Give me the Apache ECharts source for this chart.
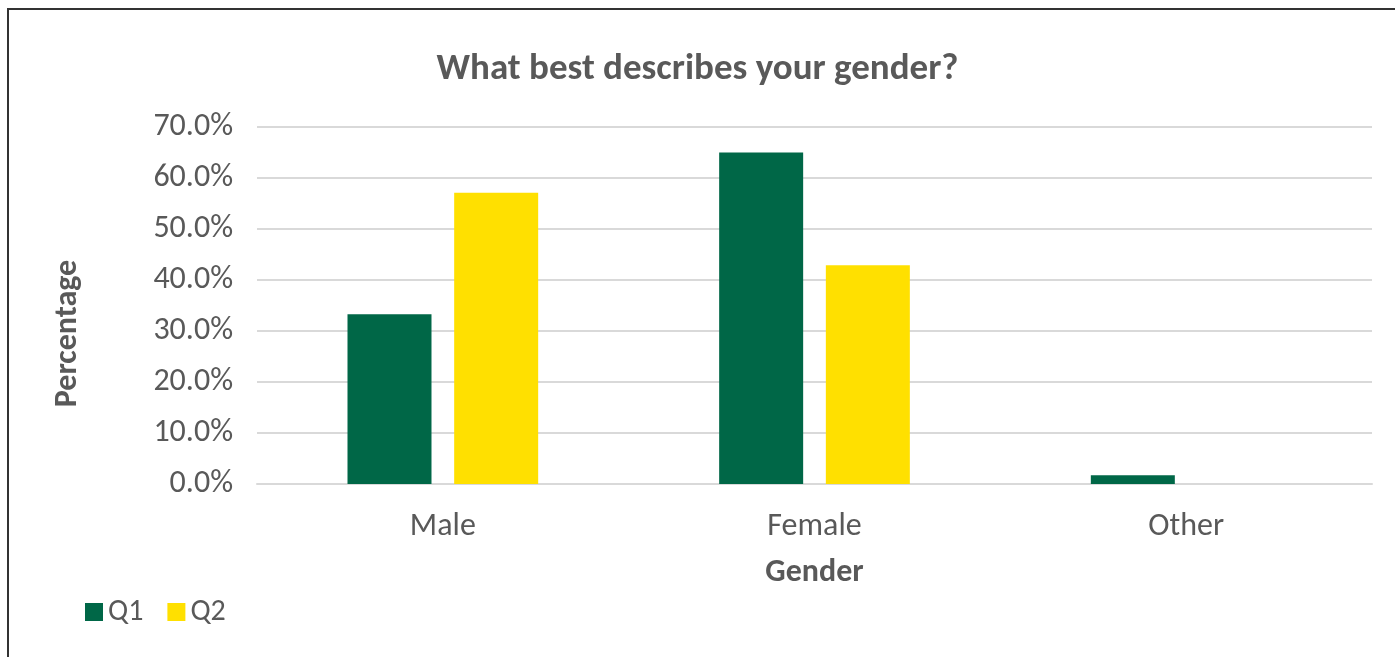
<!DOCTYPE html>
<html><head><meta charset="utf-8">
<script src="https://cdn.jsdelivr.net/npm/echarts@6/dist/echarts.min.js"></script>
<style>
html,body{margin:0;padding:0;background:#fff;overflow:hidden;}
#frame{position:absolute;left:7px;top:8px;width:1500px;height:800px;border-left:2px solid #333;border-top:2px solid #333;}
#c{position:absolute;left:0;top:0;width:1395px;height:657px;}
</style></head>
<body><div id="frame"></div><div id="c"></div>
<script>
const categories = ['Male', 'Female', 'Other'];
const q1 = [33.3, 65.0, 1.7];
const q2 = [57.1, 42.9, 0];
const seriesNames = ['Q1', 'Q2'];
const yTicks = [0, 10, 20, 30, 40, 50, 60, 70];

const font = 'Carlito, Lato, "Open Sans", sans-serif';
const chart = echarts.init(document.getElementById('c'));
chart.setOption({
  animation: false,
  textStyle: {fontFamily: font},
  title: {text: 'What best describes your gender?', left: 'center', top: 46,
    textStyle: {fontSize: 37, fontWeight: 'bold', color: '#595959', fontFamily: font}},
  legend: {left: 80, top: 592, itemWidth: 18, itemHeight: 18, itemGap: 24, icon: 'rect',
    textStyle: {fontSize: 30, color: '#595959', fontFamily: font}, data: seriesNames},
  grid: {left: 257, right: 23, top: 127, bottom: 173, containLabel: false},
  xAxis: {type: 'category', data: categories,
    name: 'Gender', nameLocation: 'middle', nameGap: 73,
    nameTextStyle: {fontSize: 32, fontWeight: 'bold', color: '#595959', fontFamily: font},
    axisLine: {lineStyle: {color: '#d9d9d9', width: 2}}, axisTick: {show: false},
    axisLabel: {fontSize: 32, color: '#595959', margin: 27, fontFamily: font}},
  yAxis: {type: 'value', min: yTicks[0], max: yTicks[yTicks.length-1], interval: 10,
    name: 'Percentage', nameLocation: 'middle', nameGap: 173, nameRotate: 90,
    nameTextStyle: {fontSize: 32, fontWeight: 'bold', color: '#595959', fontFamily: font,
      padding: [0, 56, 0, 0]},
    axisLine: {show: false}, axisTick: {show: false},
    axisLabel: {fontSize: 32, color: '#595959', margin: 24, fontFamily: font,
      formatter: v => v.toFixed(1) + '%'},
    splitLine: {lineStyle: {color: '#d9d9d9', width: 2}}},
  series: [
    {name: seriesNames[0], type: 'bar', data: q1, barWidth: 84, barGap: '27%',
      itemStyle: {color: '#006747'}},
    {name: seriesNames[1], type: 'bar', data: q2, barWidth: 84,
      itemStyle: {color: '#FFE000'}}
  ]
});
</script></body></html>
